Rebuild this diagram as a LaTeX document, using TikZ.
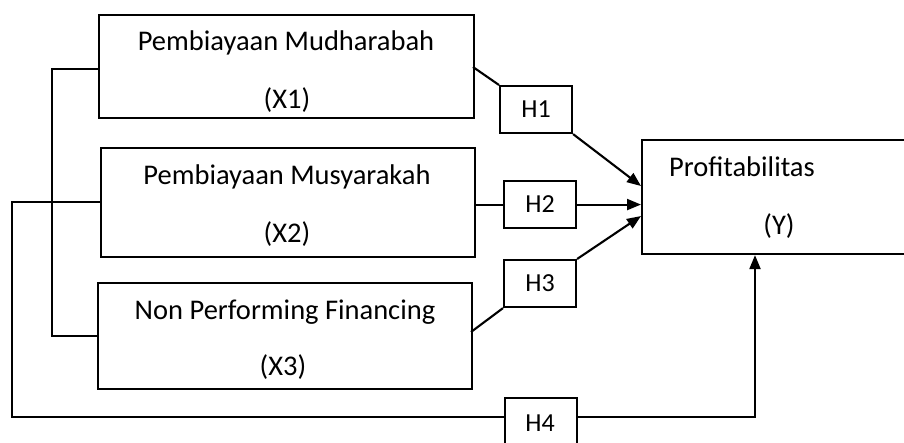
\documentclass[tikz,border=0pt]{standalone}
\usepackage{fontspec}
\setmainfont{Carlito}
\usetikzlibrary{arrows.meta}
\begin{document}
\begin{tikzpicture}[x=1pt,y=-1pt,line width=2.1pt,
  box/.style={draw, rectangle, anchor=north west, inner sep=0pt},
  hbox/.style={box, minimum width=72pt, minimum height=47pt, font=\fontsize{26}{30}\selectfont},
  txt/.style={inner sep=0pt, font=\fontsize{28.5}{32}\selectfont},
  arr/.style={-{Triangle[length=14pt,width=11pt]}}]
\useasboundingbox (0,0) rectangle (904,442);
% variable boxes
\node[box, minimum width=375pt, minimum height=103pt] (x1) at (98,14) {};
\node[box, minimum width=374pt, minimum height=109pt] (x2) at (100,147) {};
\node[box, minimum width=374pt, minimum height=106pt] (x3) at (97,282) {};
\node[box, minimum width=290pt, minimum height=114pt] (y) at (641,139) {};
\node[txt] (x1a) at (286,43) {Pembiayaan Mudharabah};
\node[txt] (x1b) at (287,100) {(X1)};
\node[txt] (x2a) at (287,177) {Pembiayaan Musyarakah};
\node[txt] (x2b) at (287,234) {(X2)};
\node[txt] (x3a) at (285,312) {Non Performing Financing};
\node[txt] (x3b) at (283,367) {(X3)};
\node[txt, anchor=west] (ya) at (668,167) {Profitabilitas};
\node[txt] (yb) at (779,226) {(Y)};
% hypothesis boxes
\node[hbox] (h1) at (499,85) {H1};
\node[hbox] (h2) at (503,180) {H2};
\node[hbox] (h3) at (503,259) {H3};
\node[hbox, minimum height=55pt] (h4) at (504,397) {};
\node[font=\fontsize{26}{30}\selectfont, inner sep=0pt] (h4t) at (540,423) {H4};
% helper coordinates
\coordinate (c1a) at (52,69);
\coordinate (c1b) at (52,336);
\coordinate (c2a) at (12,202);
\coordinate (c2b) at (12,417);
\coordinate (c2c) at (755,417);
\coordinate (e1) at (473,67);
\coordinate (t1) at (641,186);
\coordinate (e3) at (471,332);
\coordinate (t3) at (641,216);
% connectors
\draw (x1.west |- c1a) -- (c1a) -- (c1b) -- (x3.west |- c1b);
\draw (x2.west |- c2a) -- (c2a) -- (c2b) -- (h4.west |- c2b);
\draw[arr] (h4.east |- c2b) -- (c2c) -- (y.south -| c2c);
\draw (e1) -- (h1.north west);
\draw[arr] (h1.south east) -- (t1);
\draw (x2.east |- h2.west) -- (h2.west);
\draw[arr] (h2.east) -- (y.west |- h2.east);
\draw (e3) -- (h3.south west);
\draw[arr] (h3.north east) -- (t3);
\end{tikzpicture}
\end{document}
